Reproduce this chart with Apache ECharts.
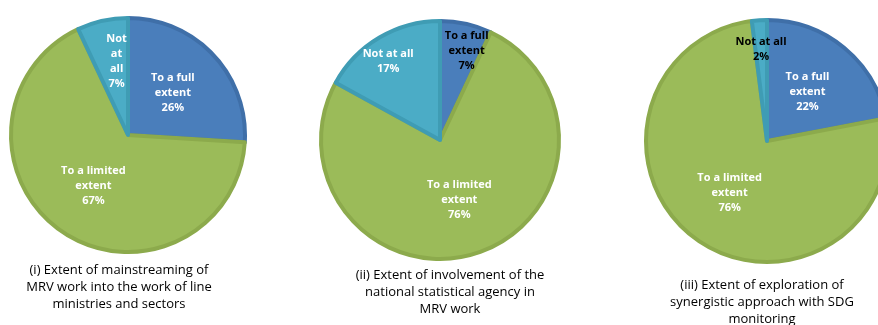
<!DOCTYPE html>
<html>
<head>
<meta charset="utf-8">
<style>
  html, body { margin: 0; padding: 0; background: #ffffff; }
  #chart { width: 878px; height: 325px; }
</style>
<script src="https://cdn.jsdelivr.net/npm/echarts@6/dist/echarts.min.js"></script>
</head>
<body>
<div id="chart"></div>
<script>
// Response categories, in clockwise order from 12 o'clock
const categories = ['To a full extent', 'To a limited extent', 'Not at all'];

// Shares (%) for each question
const mainstreamingValues = [26, 67, 7];
const statAgencyValues = [7, 76, 17];
const sdgSynergyValues = [22, 76, 2];

// Wrapped label text inside each pie
const mainstreamingLabels = ['To a full\nextent', 'To a limited\nextent', 'Not\nat\nall'];
const statAgencyLabels = ['To a full\nextent', 'To a limited\nextent', 'Not at all'];
const sdgSynergyLabels = ['To a full\nextent', 'To a limited\nextent', 'Not at all'];

// Captions under each pie
const captions = [
  '(i) Extent of mainstreaming of\nMRV work into the work of line\nministries and sectors',
  '(ii) Extent of involvement of the\nnational statistical agency in\nMRV work',
  '(iii) Extent of exploration of\nsynergistic approach with SDG\nmonitoring'
];

const fillColors = ['#4A7EBB', '#9BBB59', '#4BACC6'];
const edgeColors = ['#3F6FA8', '#8CAA4C', '#3F9CB4'];
const FONT = '"Liberation Sans Narrow", "Open Sans", "DejaVu Sans Condensed", sans-serif';

function buildPie(values, labels, center, radius, labelShift, labelColors) {
  return {
    type: 'pie',
    center: center,
    radius: radius,
    startAngle: 90,
    clockwise: true,
    silent: true,
    animation: false,
    label: {
      show: true,
      position: 'inside',
      fontFamily: FONT,
      fontWeight: 'bold',
      fontSize: 11,
      lineHeight: 15,
      align: 'center',
      formatter: p => labels[p.dataIndex] + '\n' + p.value + '%'
    },
    labelLine: { show: false },
    labelLayout: p => ({ dx: labelShift[p.dataIndex][0], dy: labelShift[p.dataIndex][1] }),
    data: values.map((v, i) => ({
      name: categories[i],
      value: v,
      itemStyle: { color: fillColors[i], borderColor: edgeColors[i], borderWidth: 4 },
      label: { color: labelColors[i] }
    }))
  };
}

const chart = echarts.init(document.getElementById('chart'), null, { renderer: 'canvas' });

const captionTitles = [
  { x: 114, y: 257 },
  { x: 445, y: 262 },
  { x: 757, y: 272 }
].map((pos, i) => ({
  text: captions[i],
  left: pos.x,
  top: pos.y,
  textAlign: 'center',
  textStyle: {
    fontFamily: FONT,
    fontWeight: 'normal',
    fontSize: 13,
    lineHeight: 17,
    color: '#000000'
  }
}));

chart.setOption({
  backgroundColor: '#ffffff',
  title: captionTitles,
  series: [
    buildPie(mainstreamingValues, mainstreamingLabels, [128, 135], 117,
      [[0, 0], [0, 0], [2, -14]], ['#ffffff', '#ffffff', '#ffffff']),
    buildPie(statAgencyValues, statAgencyLabels, [440, 140], 119,
      [[13, -28], [0, 0], [-20, -25]], ['#000000', '#ffffff', '#ffffff']),
    buildPie(sdgSynergyValues, sdgSynergyLabels, [767, 141], 121,
      [[0, 0], [0, 0], [-2, -28]], ['#ffffff', '#ffffff', '#000000'])
  ]
});
</script>
</body>
</html>
